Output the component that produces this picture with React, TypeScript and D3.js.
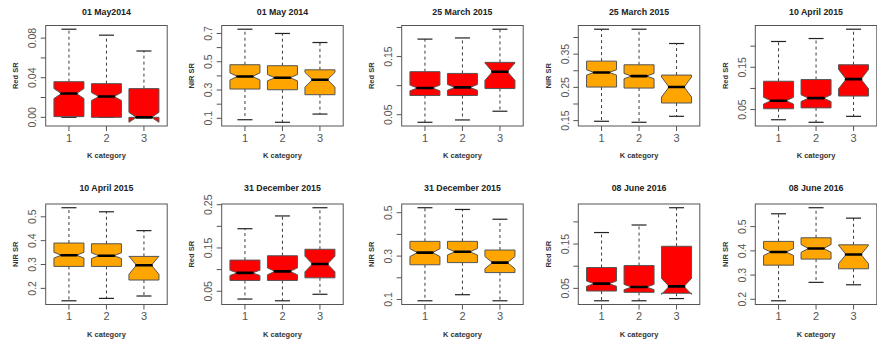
import React from "react";
import * as d3 from "d3";

const titles = [
  "01 May2014", "01 May 2014", "25 March 2015", "25 March 2015", "10 April 2015",
  "10 April 2015", "31 December 2015", "31 December 2015", "08 June 2016", "08 June 2016",
];
const yTitles = ["Red SR", "NIR SR", "Red SR", "NIR SR", "Red SR", "NIR SR", "Red SR", "NIR SR", "Red SR", "NIR SR"];
const categories = ["1", "2", "3"];
const xTitle = "K category";

const lowerWhisker = [
  [0.0, 0.0, 0.0],
  [0.09, 0.072, 0.13],
  [0.037, 0.041, 0.056],
  [0.148, 0.145, 0.163],
  [0.026, 0.02, 0.034],
  [0.148, 0.158, 0.168],
  [0.032, 0.028, 0.043],
  [0.094, 0.122, 0.094],
  [0.022, 0.022, 0.027],
  [0.194, 0.27, 0.26],
];
const lowerHinge = [
  [0.0007, 0.0, 0.0],
  [0.307, 0.302, 0.267],
  [0.083, 0.083, 0.095],
  [0.251, 0.248, 0.203],
  [0.052, 0.054, 0.082],
  [0.292, 0.292, 0.235],
  [0.075, 0.075, 0.081],
  [0.26, 0.27, 0.224],
  [0.044, 0.041, 0.039],
  [0.341, 0.366, 0.326],
];
const medians = [
  [0.024, 0.021, 0.0],
  [0.396, 0.387, 0.373],
  [0.096, 0.097, 0.124],
  [0.295, 0.284, 0.251],
  [0.071, 0.077, 0.122],
  [0.339, 0.337, 0.297],
  [0.0925, 0.096, 0.113],
  [0.316, 0.32, 0.27],
  [0.0606, 0.053, 0.0545],
  [0.395, 0.41, 0.385],
];
const upperHinge = [
  [0.036, 0.034, 0.029],
  [0.479, 0.472, 0.443],
  [0.124, 0.121, 0.14],
  [0.329, 0.318, 0.287],
  [0.117, 0.121, 0.156],
  [0.39, 0.387, 0.334],
  [0.122, 0.132, 0.147],
  [0.368, 0.368, 0.328],
  [0.097, 0.1015, 0.145],
  [0.439, 0.454, 0.425],
];
const upperWhisker = [
  [0.089, 0.083, 0.067],
  [0.73, 0.7, 0.636],
  [0.18, 0.182, 0.197],
  [0.425, 0.425, 0.382],
  [0.211, 0.218, 0.24],
  [0.538, 0.521, 0.442],
  [0.1945, 0.224, 0.243],
  [0.523, 0.515, 0.47],
  [0.176, 0.193, 0.232],
  [0.553, 0.578, 0.535],
];
const notchHalf = [
  [0.005, 0.004, 0.005],
  [0.025, 0.022, 0.052],
  [0.005, 0.005, 0.015],
  [0.008, 0.008, 0.03],
  [0.008, 0.008, 0.023],
  [0.012, 0.012, 0.038],
  [0.006, 0.008, 0.018],
  [0.018, 0.015, 0.028],
  [0.006, 0.006, 0.018],
  [0.014, 0.016, 0.038],
];
const yTicks = [
  [0, 0.02, 0.04, 0.06, 0.08],
  [0.1, 0.2, 0.3, 0.4, 0.5, 0.6, 0.7],
  [0.05, 0.1, 0.15, 0.2],
  [0.15, 0.2, 0.25, 0.3, 0.35, 0.4],
  [0.05, 0.1, 0.15, 0.2],
  [0.2, 0.3, 0.4, 0.5],
  [0.05, 0.1, 0.15, 0.2, 0.25],
  [0.1, 0.2, 0.3, 0.4, 0.5],
  [0.05, 0.1, 0.15, 0.2],
  [0.2, 0.3, 0.4, 0.5],
];
const yTickLabels = [
  ["0.00", "", "0.04", "", "0.08"],
  ["0.1", "", "0.3", "", "0.5", "", "0.7"],
  ["0.05", "", "0.15", ""],
  ["0.15", "", "0.25", "", "0.35", ""],
  ["0.05", "", "0.15", ""],
  ["0.2", "0.3", "0.4", "0.5"],
  ["0.05", "", "0.15", "", "0.25"],
  ["0.1", "", "0.3", "", "0.5"],
  ["0.05", "", "0.15", ""],
  ["0.2", "0.3", "0.4", "0.5"],
];
const fills = ["#FF0000", "#FFA500"];

const W = 877;
const H = 342;
const colLeft = [45.7, 221.7, 401.7, 578.3, 755.3];
const rowTop = [25.5, 204];
const titleY = [12, 188];
const plotW = 121.5;
const plotH = 100.5;
const FONT = "'Liberation Sans', Arial, Helvetica, sans-serif";
const INK = "#3c3c3c";

function Panel({ i }: { i: number }) {
  const left = colLeft[i % 5];
  const top = rowTop[Math.floor(i / 5)];
  const bottom = top + plotH;
  const lo = lowerWhisker[i];
  const q1 = lowerHinge[i];
  const md = medians[i];
  const q3 = upperHinge[i];
  const hi = upperWhisker[i];
  const nh = notchHalf[i];
  const all = [
    ...lo, ...hi,
    ...md.map((m, k) => m - nh[k]),
    ...md.map((m, k) => m + nh[k]),
  ];
  const mn = d3.min(all) as number;
  const mx = d3.max(all) as number;
  const pad = (mx - mn) * 0.04;
  const y = d3.scaleLinear().domain([mn - pad, mx + pad]).range([bottom, top]);
  const x = d3.scaleLinear().domain([0.38, 3.62]).range([left, left + plotW]);
  const boxHalf = (x(1.4) - x(1.0));
  const line = d3.line<[number, number]>();
  const fill = fills[i % 2];
  const cx = left + plotW / 2;

  return (
    <g>
      <text x={cx} y={titleY[Math.floor(i / 5)]} textAnchor="middle" dominantBaseline="central"
        fontFamily={FONT} fontSize={8.8} fontWeight="bold" fill="#222">{titles[i]}</text>
      {categories.map((c, k) => {
        const xc = x(k + 1);
        const w = boxHalf;
        const nlo = md[k] - nh[k];
        const nhi = md[k] + nh[k];
        const pts: [number, number][] = [
          [xc - w, y(q1[k])], [xc - w, y(nlo)], [xc - w / 2, y(md[k])], [xc - w, y(nhi)], [xc - w, y(q3[k])],
          [xc + w, y(q3[k])], [xc + w, y(nhi)], [xc + w / 2, y(md[k])], [xc + w, y(nlo)], [xc + w, y(q1[k])],
        ];
        const st = w / 2;
        return (
          <g key={c}>
            <line x1={xc} x2={xc} y1={y(q3[k])} y2={y(hi[k])} stroke={INK} strokeWidth={1} strokeDasharray="3,3" />
            <line x1={xc} x2={xc} y1={y(q1[k])} y2={y(lo[k])} stroke={INK} strokeWidth={1} strokeDasharray="3,3" />
            <line x1={xc - st} x2={xc + st} y1={y(hi[k])} y2={y(hi[k])} stroke="#222" strokeWidth={1.2} />
            <line x1={xc - st} x2={xc + st} y1={y(lo[k])} y2={y(lo[k])} stroke="#222" strokeWidth={1.2} />
            <path d={(line(pts) as string) + "Z"} fill={fill} stroke="#555" strokeWidth={1} strokeLinejoin="round" />
            <line x1={xc - w / 2} x2={xc + w / 2} y1={y(md[k])} y2={y(md[k])} stroke="#000" strokeWidth={2.6} strokeLinecap="round" />
          </g>
        );
      })}
      <rect x={left} y={top} width={plotW} height={plotH} fill="none" stroke="#555" strokeWidth={1} />
      {yTicks[i].map((t, k) => (
        <g key={"yt" + k}>
          <line x1={left - 5} x2={left} y1={y(t)} y2={y(t)} stroke="#555" strokeWidth={1} />
          {yTickLabels[i][k] ? (
            <text transform={`translate(${left - 13.5},${y(t)}) rotate(-90)`} textAnchor="middle"
              dominantBaseline="central" fontFamily={FONT} fontSize={10.5} fill="#555">{yTickLabels[i][k]}</text>
          ) : null}
        </g>
      ))}
      {categories.map((c, k) => (
        <g key={"xt" + k}>
          <line x1={x(k + 1)} x2={x(k + 1)} y1={bottom} y2={bottom + 5} stroke="#555" strokeWidth={1} />
          <text x={x(k + 1)} y={bottom + 11.5} textAnchor="middle" dominantBaseline="central"
            fontFamily={FONT} fontSize={11} fill="#555">{c}</text>
        </g>
      ))}
      <text x={cx} y={bottom + 29.5} textAnchor="middle" dominantBaseline="central"
        fontFamily={FONT} fontSize={7.5} fontWeight="bold" fill="#333">{xTitle}</text>
      <text transform={`translate(${left - 30},${top + plotH / 2}) rotate(-90)`} textAnchor="middle"
        dominantBaseline="central" fontFamily={FONT} fontSize={7.5} fontWeight="bold" fill="#333">{yTitles[i]}</text>
    </g>
  );
}

export default function App() {
  return (
    <svg width={W} height={H} viewBox={`0 0 ${W} ${H}`}
      style={{ position: "absolute", left: 0, top: 0, background: "#fff" }}>
      <rect x={0} y={0} width={W} height={H} fill="#fff" />
      {titles.map((_, i) => <Panel key={i} i={i} />)}
    </svg>
  );
}
